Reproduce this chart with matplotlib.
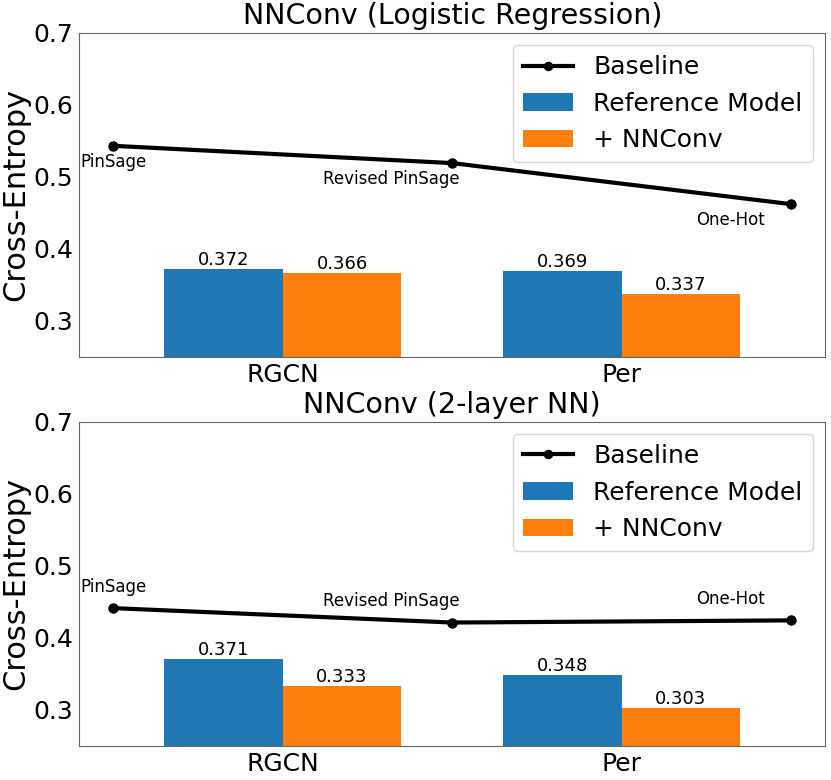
import numpy as np
import matplotlib
matplotlib.use('Agg')
import matplotlib.pyplot as plt

models = ['RGCN', 'Per']
baseline_names = ['PinSage', 'Revised PinSage', 'One-Hot']

titles = ['NNConv (Logistic Regression)', 'NNConv (2-layer NN)']
ref_vals = [[0.372, 0.369], [0.371, 0.348]]
nnconv_vals = [[0.366, 0.337], [0.333, 0.303]]
baseline_vals = [[0.543, 0.519, 0.462], [0.441, 0.421, 0.424]]

width = 0.35
x = np.arange(len(models))
xb = np.array([-0.5, 0.5, 1.5])

fig, axes = plt.subplots(2, 1, figsize=(8.31, 7.8), dpi=100)
fig.subplots_adjust(left=0.0955, right=0.9928, top=0.958, bottom=0.044, hspace=0.2)

for k, ax in enumerate(axes):
    ax.plot(xb, baseline_vals[k], 'k-', marker='o', lw=3, ms=6.5, label='Baseline')
    b1 = ax.bar(x - width/2, ref_vals[k], width, color='#1f77b4', label='Reference Model')
    b2 = ax.bar(x + width/2, nnconv_vals[k], width, color='#ff7f0e', label='+ NNConv')
    ax.bar_label(b1, fmt='%.3f', fontsize=13)
    ax.bar_label(b2, fmt='%.3f', fontsize=13)

    # baseline names
    dy = -0.022 if k == 0 else 0.03
    dxs = [0.0, -0.18, -0.18]
    for i, name in enumerate(baseline_names):
        ax.text(xb[i] + dxs[i], baseline_vals[k][i] + dy, name,
                ha='center', va='center', fontsize=12)

    ax.set_ylim(0.25, 0.7)
    ax.set_xlim(-0.6, 1.6)
    ax.set_xticks(x)
    ax.set_xticklabels(models)
    ax.set_yticks([0.3, 0.4, 0.5, 0.6, 0.7])
    ax.tick_params(labelsize=18, length=0, pad=4.5)
    for s in ax.spines.values():
        s.set_color('0.4')
    ax.set_ylabel('Cross-Entropy', fontsize=22, labelpad=2)
    ax.set_title(titles[k], fontsize=20.5, pad=6)
    ax.legend(loc='upper right', fontsize=18, markerscale=0.9)

fig.savefig('out.png')
